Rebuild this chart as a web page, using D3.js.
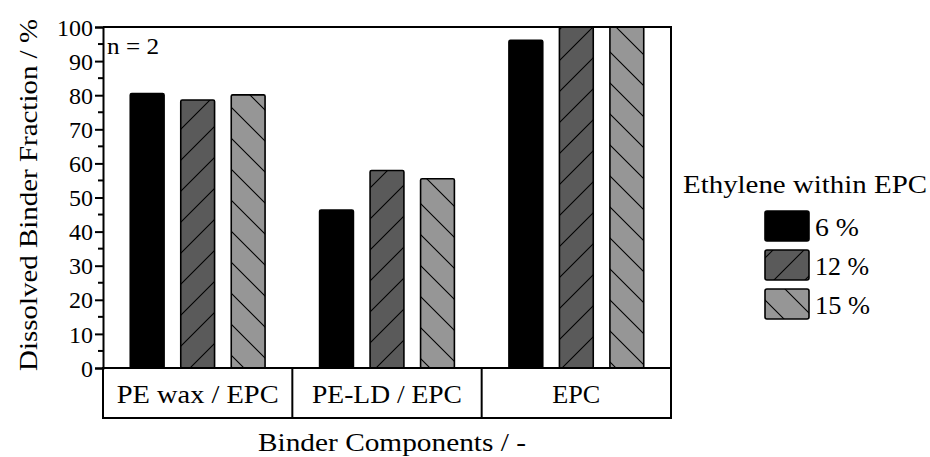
<!DOCTYPE html>
<html>
<head>
<meta charset="utf-8">
<script src="https://cdn.jsdelivr.net/npm/d3@7"></script>
<style>
  html, body { margin: 0; padding: 0; background: #fff; }
</style>
</head>
<body>
<div id="chart"></div>
<script>
// Binder components and ethylene content groups
const categories = ["PE wax / EPC", "PE-LD / EPC", "EPC"];
const seriesNames = ["6 %", "12 %", "15 %"];
const values6 = [80.5, 46.3, 96.1];
const values12 = [78.6, 57.9, 100];
const values15 = [80.1, 55.5, 100];
const yTicks = [0, 10, 20, 30, 40, 50, 60, 70, 80, 90, 100];

const seriesValues = [values6, values12, values15];
const fills = ["#000000", "url(#hatch-fwd)", "url(#hatch-back)"];
const FONT = "'Liberation Serif', 'Times New Roman', serif";

const W = 930, H = 457;
const plotL = 103, plotR = 671, plotT = 27, plotB = 368, catB = 418;

const svg = d3.select("#chart").append("svg")
  .attr("width", W).attr("height", H);

// serif text helper; optional target width fits the run of text
function label(g, x, y, str, size, anchor, width) {
  const t = g.append("text")
    .attr("x", x).attr("y", y)
    .attr("text-anchor", anchor || "start")
    .attr("fill", "#000")
    .style("font-family", FONT)
    .style("font-size", size + "px")
    .text(str);
  if (width) t.attr("textLength", width).attr("lengthAdjust", "spacingAndGlyphs");
  return t;
}

// hatch patterns
const defs = svg.append("defs");
function hatch(id, bg, forward) {
  const s = 31;
  const p = defs.append("pattern").attr("id", id)
    .attr("patternUnits", "userSpaceOnUse")
    .attr("width", s).attr("height", s);
  p.append("rect").attr("width", s).attr("height", s).attr("fill", bg);
  const d = forward
    ? `M0,${s} L${s},0 M-8,8 L8,-8 M${s - 8},${s + 8} L${s + 8},${s - 8}`
    : `M0,0 L${s},${s} M-8,${s - 8} L8,${s + 8} M${s - 8},-8 L${s + 8},8`;
  p.append("path").attr("d", d).attr("stroke", "#000").attr("stroke-width", 1.1);
}
hatch("hatch-fwd", "#5a5a5a", true);
hatch("hatch-back", "#969696", false);

const y = d3.scaleLinear().domain([0, 100]).range([plotB, plotT]);
const x0 = d3.scaleBand().domain(categories).range([plotL, plotR]).paddingInner(0).paddingOuter(0);
const x1 = d3.scaleBand().domain(seriesNames).range([0, x0.bandwidth()])
  .paddingInner(0.33).paddingOuter(0.54);

// clip for bars at the plot frame
defs.append("clipPath").attr("id", "plot-clip")
  .append("rect").attr("x", plotL).attr("y", plotT).attr("width", plotR - plotL).attr("height", plotB - plotT);

const rows = [];
categories.forEach((c, ci) => {
  seriesNames.forEach((s, si) => rows.push({ c, s, si, v: seriesValues[si][ci] }));
});

svg.append("g").attr("clip-path", "url(#plot-clip)")
  .selectAll("rect").data(rows).join("rect")
  .attr("x", d => x0(d.c) + x1(d.s))
  .attr("y", d => y(d.v))
  .attr("width", x1.bandwidth())
  .attr("height", d => y(0) - y(d.v))
  .attr("rx", 1.5)
  .attr("fill", d => fills[d.si])
  .attr("stroke", "#000")
  .attr("stroke-width", 1.6);

// frame: top and right
svg.append("path")
  .attr("d", `M${plotL},${plotT} L${plotR},${plotT} L${plotR},${plotB}`)
  .attr("fill", "none").attr("stroke", "#000").attr("stroke-width", 2);

// y axis with minor ticks
const yAxis = d3.axisLeft(y).tickValues(yTicks).tickSize(8).tickPadding(2).tickFormat(d3.format("d"));
const gy = svg.append("g").attr("transform", `translate(${plotL},0)`).call(yAxis);
gy.select(".domain").attr("stroke-width", 2);
gy.selectAll(".tick line").attr("stroke-width", 2);
gy.selectAll(".tick text")
  .style("font-family", FONT).style("font-size", "24px")
  .attr("fill", "#000").attr("dy", "0.34em");
const minor = d3.range(5, 100, 10);
gy.selectAll(".minor").data(minor).join("line").attr("class", "minor")
  .attr("x1", -5).attr("x2", 0).attr("y1", d => y(d)).attr("y2", d => y(d))
  .attr("stroke", "#000").attr("stroke-width", 2);

// category table beneath the bars
const gc = svg.append("g");
gc.append("rect").attr("x", plotL).attr("y", plotB).attr("width", plotR - plotL).attr("height", catB - plotB)
  .attr("fill", "none").attr("stroke", "#000").attr("stroke-width", 2);
gc.selectAll("line.div").data(categories.slice(1)).join("line").attr("class", "div")
  .attr("x1", d => x0(d)).attr("x2", d => x0(d)).attr("y1", plotB).attr("y2", catB)
  .attr("stroke", "#000").attr("stroke-width", 2);
const catWidths = [162, 150, 48];
categories.forEach((c, i) => {
  label(gc, x0(c) + x0.bandwidth() / 2, 403, c, 25, "middle", catWidths[i]);
});

// axis titles
label(svg, 0, 0, "Dissolved Binder Fraction / %", 25, "middle", 352)
  .attr("transform", `translate(37,${195}) rotate(-90)`);
label(svg, 392, 451, "Binder Components / -", 25, "middle", 268);

label(svg, 107, 54, "n = 2", 23, "start", 52);

// legend
const lg = svg.append("g");
label(lg, 683, 193, "Ethylene within EPC", 25, "start", 244);
const ly = [211, 250, 289];
lg.selectAll("rect").data(seriesNames).join("rect")
  .attr("x", 765).attr("y", (d, i) => ly[i]).attr("width", 44).attr("height", 30).attr("rx", 2)
  .attr("fill", (d, i) => fills[i]).attr("stroke", "#000").attr("stroke-width", 1.6);
const itemWidths = [44, 54, 55];
seriesNames.forEach((s, i) => label(lg, 815, ly[i] + 25, s, 25, "start", itemWidths[i]));
</script>
</body>
</html>
